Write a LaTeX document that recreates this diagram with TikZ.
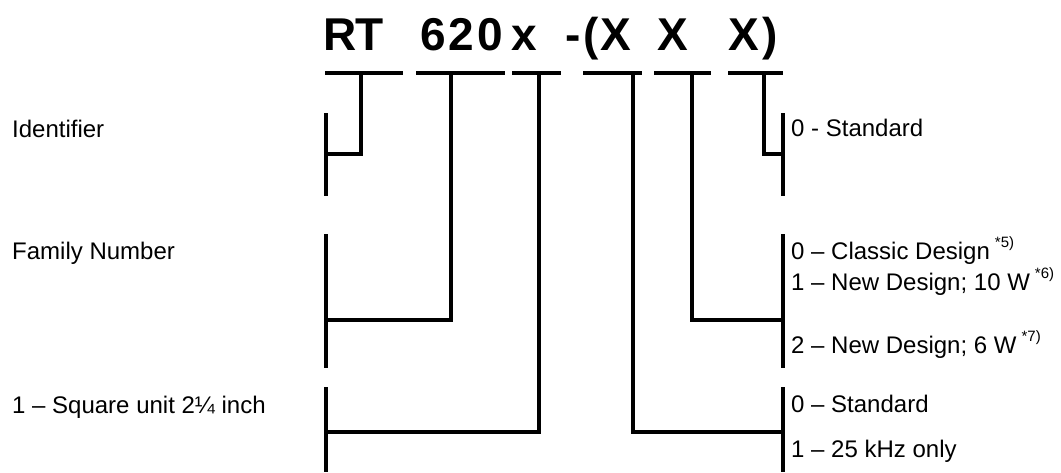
\documentclass[tikz,border=0pt]{standalone}
\usepackage{fontspec}
\setmainfont{Liberation Sans}
\newcommand\supx[1]{\hspace{5pt}\raisebox{12pt}{\fontsize{15}{15}\selectfont #1}}
\begin{document}
\begin{tikzpicture}[x=1pt,y=-1pt,
  ln/.style={line width=4pt, line cap=butt, line join=miter},
  ttl/.style={anchor=base, inner sep=0pt, font=\fontsize{46}{46}\selectfont\bfseries},
  lbl/.style={anchor=base west, inner sep=0pt, font=\fontsize{24}{28}\selectfont}]
\useasboundingbox (0,0) rectangle (1061,472);
% title glyphs
\node[ttl] (gR) at (340,50) {R};
\node[ttl] (gT) at (370,50) {T};
\node[ttl] (g6) at (433,50) {6};
\node[ttl] (g2) at (461,50) {2};
\node[ttl] (g0) at (490,50) {0};
\node[ttl] (gx) at (524.5,50) {x};
\node[ttl] (gdash) at (573,50) {-};
\node[ttl] (gpar) at (591,50) {(};
\node[ttl] (gX1) at (616,50) {X};
\node[ttl] (gX2) at (673,50) {X};
\node[ttl] (gX3) at (744,50) {X};
\node[ttl] (gcl) at (770,50) {)};
% left labels
\node[lbl] (lid) at (12,137) {Identifier};
\node[lbl] (lfam) at (12,259) {Family Number};
\node[lbl] (lsq) at (12,413) {1 – Square unit 2¼ inch};
% right labels
\node[lbl] (r1) at (791,136.5) {0 - Standard};
\node[lbl] (r2) at (791,259) {0 – Classic Design\supx{*5)}};
\node[lbl] (r3) at (791,290) {1 – New Design; 10 W\supx{*6)}};
\node[lbl] (r4) at (791,353) {2 – New Design; 6 W\supx{*7)}};
\node[lbl] (r5) at (791,412) {0 – Standard};
\node[lbl] (r6) at (791,457) {1 – 25 kHz only};
% bars under title
\coordinate (b1l) at (325,73); \coordinate (b1r) at (403,73); \coordinate (s1) at (361,73);
\coordinate (b2l) at (416,73); \coordinate (b2r) at (505,73); \coordinate (s2) at (451,73);
\coordinate (b3l) at (512,73); \coordinate (b3r) at (561,73); \coordinate (s3) at (539,73);
\coordinate (b4l) at (583,73); \coordinate (b4r) at (642,73); \coordinate (s4) at (633,73);
\coordinate (b5l) at (654,73); \coordinate (b5r) at (711,73); \coordinate (s5) at (692,73);
\coordinate (b6l) at (728,73); \coordinate (b6r) at (783,73); \coordinate (s6) at (764,73);
\foreach \i in {1,...,6} { \draw[ln] (b\i l) -- (b\i r); }
% left brackets
\coordinate (L1t) at (326,113); \coordinate (L1b) at (326,196);
\coordinate (L2t) at (326,234); \coordinate (L2b) at (326,368);
\coordinate (L3t) at (326,387); \coordinate (L3b) at (326,472);
\draw[ln] (L1t) -- (L1b);
\draw[ln] (L2t) -- (L2b);
\draw[ln] (L3t) -- (L3b);
% right brackets
\coordinate (R1t) at (783,113); \coordinate (R1b) at (783,196);
\coordinate (R2t) at (783,234); \coordinate (R2b) at (783,368);
\coordinate (R3t) at (783,387); \coordinate (R3b) at (783,472);
\draw[ln] (R1t) -- (R1b);
\draw[ln] (R2t) -- (R2b);
\draw[ln] (R3t) -- (R3b);
% stems
\coordinate (j1) at (326,154); \coordinate (j2) at (326,320); \coordinate (j3) at (326,432);
\coordinate (j4) at (783,432); \coordinate (j5) at (783,320); \coordinate (j6) at (783,154);
\draw[ln] (s1) |- (j1);
\draw[ln] (s2) |- (j2);
\draw[ln] (s3) |- (j3);
\draw[ln] (s4) |- (j4);
\draw[ln] (s5) |- (j5);
\draw[ln] (s6) |- (j6);
\end{tikzpicture}
\end{document}
